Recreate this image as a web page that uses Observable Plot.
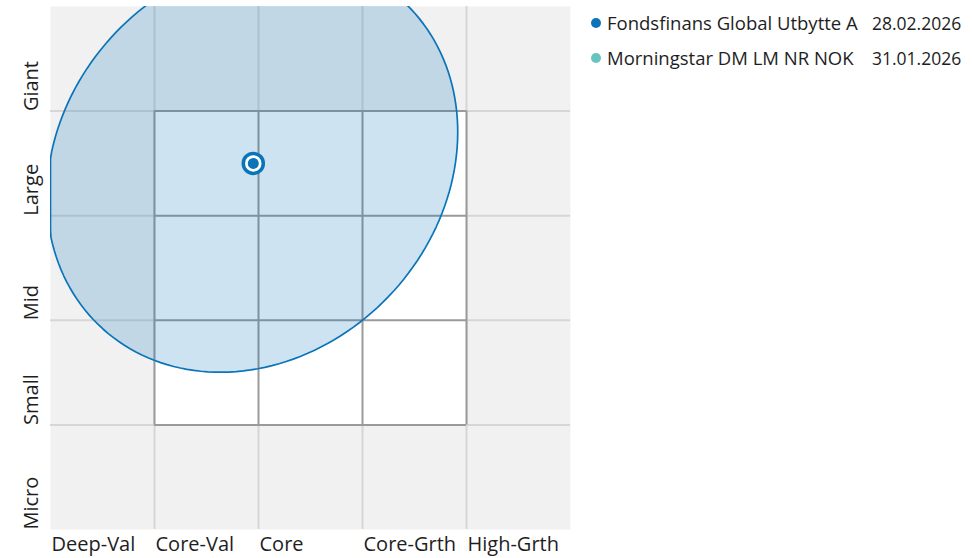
<!DOCTYPE html>
<html>
<head>
<meta charset="utf-8">
<script src="https://cdn.jsdelivr.net/npm/d3@7"></script>
<script src="https://cdn.jsdelivr.net/npm/@observablehq/plot@0.6"></script>
<style>
  html, body { margin: 0; padding: 0; background: #fff; }
  #wrap { position: relative; width: 972px; height: 558px; font-family: "Open Sans", sans-serif; }
  #legend { position: absolute; left: 590px; top: 9px; color: #1e1e1e; }
  .row { position: relative; height: 35px; line-height: 28px; white-space: nowrap; }
  .dot { position: absolute; left: 1px; top: 9px; width: 10px; height: 10px; border-radius: 50%; }
  .name { position: absolute; left: 17px; font-size: 18.5px; }
  .date { position: absolute; left: 282px; font-size: 17.5px; }
</style>
</head>
<body>
<div id="wrap"><div id="legend"></div></div>
<script>
// ---- data ----
const xTicks = [-100, 0, 100, 200, 300];
const xLabels = ["Deep-Val", "Core-Val", "Core", "Core-Grth", "High-Grth"];
const yTicks = [300, 200, 100, 0, -100];
const yLabels = ["Giant", "Large", "Mid", "Small", "Micro"];
const gridValues = [0, 100, 200, 300];

const seriesNames = ["Fondsfinans Global Utbytte A", "Morningstar DM LM NR NOK"];
const seriesDates = ["28.02.2026", "31.01.2026"];
const seriesColors = ["#0a74b8", "#66c4c0"];

const fundX = [95];
const fundY = [250];

// ownership zone (ellipse) parameters, in style-box units
const zoneCenter = [94, 249];
const zoneSemiAxes = [213, 182];
const zoneAngleDeg = [46];

// ---- build ----
const blue = seriesColors[0];
const theta = zoneAngleDeg[0] * Math.PI / 180;
const zone = d3.range(0, 361, 2).map(deg => {
  const t = deg * Math.PI / 180;
  const a = zoneSemiAxes[0], b = zoneSemiAxes[1];
  let x = zoneCenter[0] + a * Math.cos(t) * Math.cos(theta) - b * Math.sin(t) * Math.sin(theta);
  let y = zoneCenter[1] + a * Math.cos(t) * Math.sin(theta) + b * Math.sin(t) * Math.cos(theta);
  return {x: Math.max(-100, x), y};
});
const fund = fundX.map((x, i) => ({x, y: fundY[i]}));
const xLab = xTicks.map((v, i) => ({v, label: xLabels[i]}));
const yLab = yTicks.map((v, i) => ({v, label: yLabels[i]}));

const chart = Plot.plot({
  width: 972,
  height: 558,
  marginLeft: 50,
  marginRight: 402,
  marginTop: 6,
  marginBottom: 29,
  style: {fontFamily: "Open Sans, sans-serif", background: "white"},
  x: {domain: [-100, 400], axis: null},
  y: {domain: [-100, 400], axis: null},
  marks: [
    Plot.frame({fill: "#f1f1f1", stroke: "none"}),
    Plot.ruleX(gridValues, {x: d => d, y1: -100, y2: 400, stroke: "#d6d6d6", strokeWidth: 2}),
    Plot.ruleY(gridValues, {y: d => d, x1: -100, x2: 400, stroke: "#d6d6d6", strokeWidth: 2}),
    Plot.rect([{x1: 0, x2: 300, y1: 0, y2: 300}], {x1: "x1", x2: "x2", y1: "y1", y2: "y2", fill: "white"}),
    Plot.ruleX(gridValues, {x: d => d, y1: 0, y2: 300, stroke: "#9a9a9a", strokeWidth: 2}),
    Plot.ruleY(gridValues, {y: d => d, x1: 0, x2: 300, stroke: "#9a9a9a", strokeWidth: 2}),
    Plot.line(zone, {x: "x", y: "y", curve: "linear-closed", fill: blue, fillOpacity: 0.2, stroke: blue, strokeWidth: 1.7, clip: true}),
    Plot.dot(fund, {x: "x", y: "y", r: 10, fill: "white", stroke: blue, strokeWidth: 3.5}),
    Plot.dot(fund, {x: "x", y: "y", r: 5.5, fill: blue, stroke: "none"}),
    Plot.text(xLab, {x: "v", y: -100, text: "label", textAnchor: "start", lineAnchor: "middle", dx: 1, dy: 15, fontSize: 20, fill: "#1e1e1e"}),
    Plot.text(yLab, {x: -100, y: "v", text: "label", rotate: -90, textAnchor: "start", lineAnchor: "middle", dx: -19, dy: 0, fontSize: 20, fill: "#1e1e1e"})
  ]
});
document.getElementById("wrap").prepend(chart);

const legend = document.getElementById("legend");
seriesNames.forEach((n, i) => {
  const row = document.createElement("div");
  row.className = "row";
  row.innerHTML = `<span class="dot" style="background:${seriesColors[i]}"></span><span class="name">${n}</span><span class="date">${seriesDates[i]}</span>`;
  legend.appendChild(row);
});
</script>
</body>
</html>
